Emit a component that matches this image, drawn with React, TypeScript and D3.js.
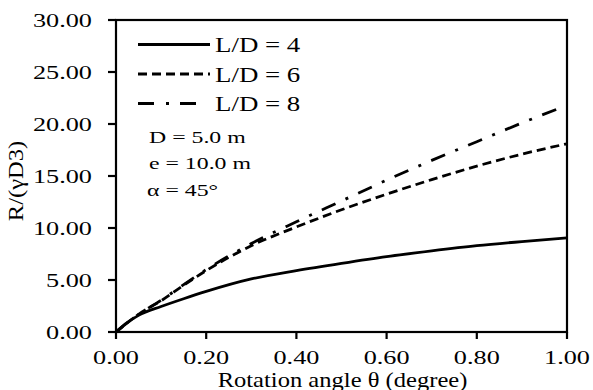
import React from "react";
import * as d3 from "d3";

const thetas = [0, 0.02, 0.05, 0.1, 0.15, 0.2, 0.3, 0.4, 0.5, 0.6, 0.7, 0.8, 0.9, 1.0];
const ld4 = [0, 0.75, 1.6, 2.45, 3.2, 3.9, 5.1, 5.9, 6.6, 7.25, 7.8, 8.3, 8.7, 9.05];
const ld6 = [0, 0.7, 1.7, 3.0, 4.5, 5.9, 8.3, 10.1, 11.75, 13.25, 14.65, 15.95, 17.1, 18.1];
const ld8 = [0, 0.7, 1.7, 3.05, 4.55, 6.0, 8.5, 10.6, 12.6, 14.6, 16.5, 18.3, 20.1, 21.8];

const seriesNames = ["L/D = 4", "L/D = 6", "L/D = 8"];
const xTicks = [0, 0.2, 0.4, 0.6, 0.8, 1.0];
const yTicks = [0, 5, 10, 15, 20, 25, 30];
const notes = ["D = 5.0 m", "e = 10.0 m", "α = 45°"];
const xTitle = "Rotation angle θ (degree)";
const yTitle = "R/(γD3)";

const W = 593;
const H = 390;
const M = { left: 116, right: 26, top: 20, bottom: 58 };
const FONT = "'Liberation Serif', 'Times New Roman', serif";

function T({ x, y, s = 1, size, anchor = "start", children, rotate = 0 }: any) {
  return (
    <text
      transform={`translate(${x},${y})${rotate ? ` rotate(${rotate})` : ""} scale(${s},1)`}
      fontSize={size}
      textAnchor={anchor}
      fontFamily={FONT}
      fill="#000"
    >
      {children}
    </text>
  );
}

export default function App() {
  const x = d3.scaleLinear().domain([0, 1]).range([M.left, W - M.right]);
  const y = d3.scaleLinear().domain([0, 30]).range([H - M.bottom, M.top]);
  const series = [ld4, ld6, ld8];
  const dashes = ["none", "9,5", "15,11,3,11"];
  const line = d3
    .line<number>()
    .x((_, i) => x(thetas[i]))
    .y((d) => y(d))
    .curve(d3.curveMonotoneX);

  const x0 = x(0), x1 = x(1), y0 = y(0), y1 = y(30);
  const legendY = [44.5, 74, 103.5];

  return (
    <svg width={W} height={H} style={{ position: "absolute", left: 0, top: 0, background: "#fff" }}>
      <rect x={0} y={0} width={W} height={H} fill="#fff" />
      {series.map((s, k) => (
        <path
          key={k}
          d={line(s) || ""}
          fill="none"
          stroke="#000"
          strokeWidth={2.8}
          strokeDasharray={dashes[k]}
        />
      ))}
      <rect x={x0} y={y1} width={x1 - x0} height={y0 - y1} fill="none" stroke="#000" strokeWidth={2.2} />
      {yTicks.map((t) => (
        <g key={"y" + t}>
          <line x1={x0 - 8} x2={x0} y1={y(t)} y2={y(t)} stroke="#000" strokeWidth={2.2} />
          <T x={x0 - 24} y={y(t) + 7} s={1.42} size={18.5} anchor="end">
            {t.toFixed(2)}
          </T>
        </g>
      ))}
      {xTicks.map((t) => (
        <g key={"x" + t}>
          <line x1={x(t)} x2={x(t)} y1={y0} y2={y0 + 7} stroke="#000" strokeWidth={2.2} />
          <T x={x(t)} y={363.5} s={1.42} size={18.5} anchor="middle">
            {t.toFixed(2)}
          </T>
        </g>
      ))}
      <T x={(x0 + x1) / 2 + 1} y={386.5} s={1.17} size={21} anchor="middle">
        {xTitle}
      </T>
      <T x={23} y={181} s={1.23} size={20} anchor="middle" rotate={-90}>
        {yTitle}
      </T>
      {seriesNames.map((n, k) => (
        <g key={n}>
          <line
            x1={138}
            x2={k === 2 ? 197 : 210}
            y1={legendY[k]}
            y2={legendY[k]}
            stroke="#000"
            strokeWidth={2.8}
            strokeDasharray={k === 2 ? "16,12,3,11" : dashes[k]}
          />
          <T x={215} y={legendY[k] + 7.8} s={1.28} size={21}>
            {n}
          </T>
        </g>
      ))}
      {notes.map((n, k) => (
        <T key={n} x={k === 2 ? 147 : 149} y={143 + k * 26.3} s={1.4} size={17}>
          {n}
        </T>
      ))}
    </svg>
  );
}
